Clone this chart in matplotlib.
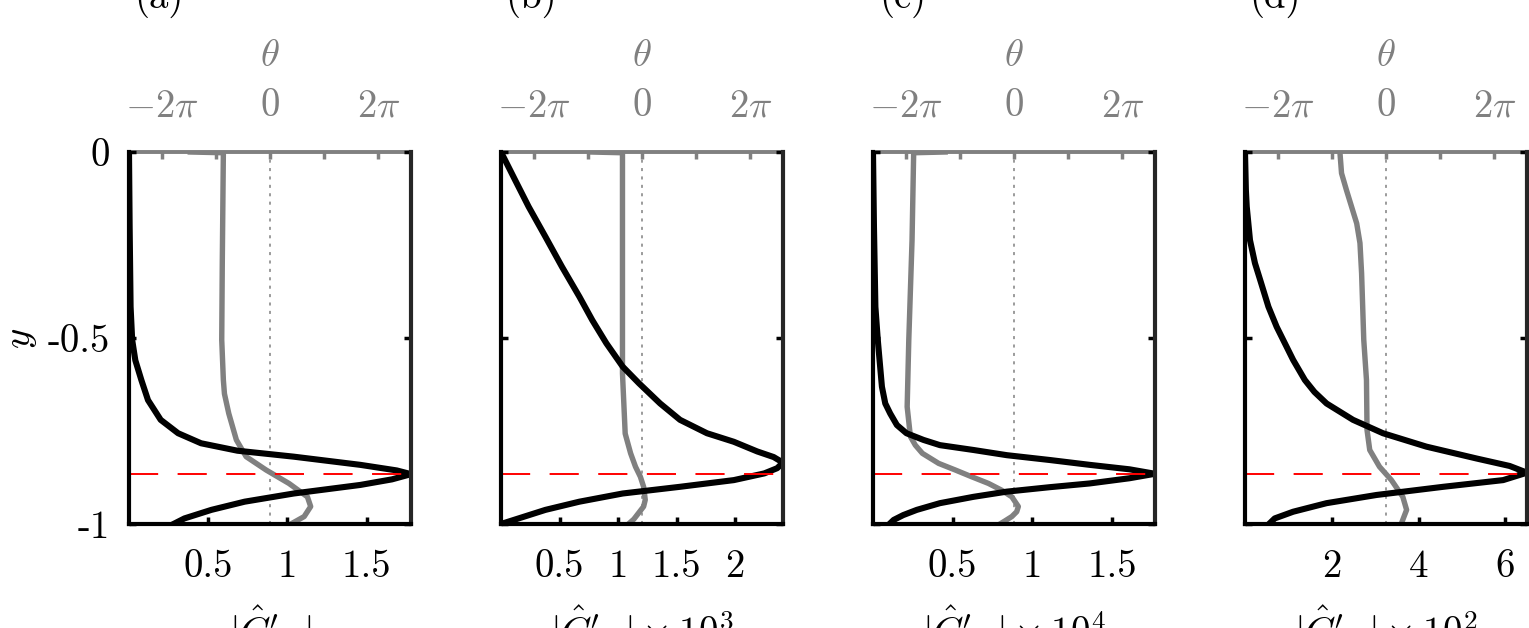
import numpy as np
import matplotlib
matplotlib.use('Agg')
import matplotlib.pyplot as plt

plt.rcParams['font.family'] = 'serif'
plt.rcParams['font.serif'] = ['cmr10', 'DejaVu Serif']
plt.rcParams['mathtext.fontset'] = 'cm'
plt.rcParams['axes.unicode_minus'] = False

# amplitude |C'| (black) and phase theta/pi (grey) against y
y_amp_a = [0, -0.2, -0.416, -0.505, -0.56, -0.613, -0.667, -0.72, -0.756, -0.783, -0.803,
           -0.819, -0.841, -0.856, -0.866, -0.88, -0.895, -0.918, -0.94, -0.962, -0.985, -0.998]
amp_a = [0, 0.004, 0.01, 0.02, 0.04, 0.078, 0.12, 0.20, 0.31, 0.455, 0.685,
         1.04, 1.46, 1.69, 1.78, 1.66, 1.46, 1.04, 0.73, 0.52, 0.35, 0.29]
y_ph_a = [0, -0.002, -0.3, -0.505, -0.613, -0.65, -0.703, -0.774, -0.819, -0.855,
          -0.891, -0.927, -0.953, -0.98, -1.0]
ph_a = [-1.47, -0.86, -0.88, -0.89, -0.86, -0.84, -0.76, -0.62, -0.44, -0.07,
        0.35, 0.69, 0.75, 0.63, 0.385]

y_amp_b = [0, -0.075, -0.147, -0.228, -0.308, -0.389, -0.452, -0.514, -0.577, -0.622,
           -0.676, -0.72, -0.756, -0.779, -0.805, -0.82, -0.835, -0.85, -0.864, -0.882,
           -0.9, -0.918, -0.94, -0.962, -0.985, -1.0]
amp_b = [0, 0.12, 0.236, 0.38, 0.52, 0.67, 0.78, 0.90, 1.04, 1.18,
         1.36, 1.53, 1.76, 1.99, 2.19, 2.33, 2.41, 2.36, 2.25, 1.99,
         1.53, 1.04, 0.67, 0.38, 0.15, 0.0]
y_ph_b = [0, -0.002, -0.595, -0.757, -0.81, -0.846, -0.873, -0.9, -0.935, -0.953, -0.97, -0.987, -1.0]
ph_b = [-0.95, -0.36, -0.36, -0.31, -0.21, -0.12, -0.03, 0.03, 0.06, 0.03, -0.06, -0.15, -0.25]

y_amp_c = [0, -0.2, -0.416, -0.505, -0.631, -0.676, -0.703, -0.734, -0.756, -0.774, -0.788,
           -0.801, -0.815, -0.828, -0.841, -0.853, -0.865, -0.877, -0.891, -0.901, -0.913,
           -0.927, -0.944, -0.962, -0.976, -0.989, -0.998]
amp_c = [0, 0.006, 0.015, 0.03, 0.056, 0.077, 0.108, 0.15, 0.21, 0.317, 0.42,
         0.63, 0.84, 1.11, 1.36, 1.61, 1.77, 1.61, 1.36, 1.11, 0.84,
         0.63, 0.42, 0.275, 0.19, 0.13, 0.108]
y_ph_c = [0, -0.002, -0.237, -0.505, -0.685, -0.765, -0.788, -0.81, -0.837, -0.855, -0.873,
          -0.891, -0.909, -0.927, -0.953, -0.967, -0.98, -0.992, -1.0]
ph_c = [-1.27, -1.85, -1.88, -1.94, -1.97, -1.91, -1.82, -1.69, -1.39, -1.08, -0.78,
        -0.47, -0.23, -0.04, 0.08, 0.05, -0.04, -0.17, -0.26]

y_amp_d = [0, -0.102, -0.147, -0.237, -0.299, -0.344, -0.416, -0.47, -0.559, -0.613, -0.645,
           -0.676, -0.72, -0.756, -0.792, -0.824, -0.844, -0.862, -0.882, -0.9, -0.922,
           -0.944, -0.967, -0.985, -0.998]
amp_d = [0, 0.02, 0.04, 0.115, 0.23, 0.35, 0.54, 0.73, 1.11, 1.38, 1.6,
         1.88, 2.49, 3.18, 4.18, 5.34, 6.1, 6.5, 5.95, 4.57, 3.03,
         1.88, 1.11, 0.685, 0.57]
y_ph_d = [0, -0.057, -0.102, -0.147, -0.192, -0.245, -0.326, -0.505, -0.613, -0.747,
          -0.801, -0.846, -0.882, -0.927, -0.962, -1.0]
ph_d = [-0.85, -0.82, -0.73, -0.635, -0.54, -0.48, -0.45, -0.41, -0.36, -0.35,
        -0.30, -0.12, 0.10, 0.31, 0.38, 0.28]

panels = ['(a)', '(b)', '(c)', '(d)']
xmax = [1.78, 2.41, 1.77, 6.5]
xticks = [[0.5, 1, 1.5], [0.5, 1, 1.5, 2], [0.5, 1, 1.5], [2, 4, 6]]
xticklabels = [['0.5', '1', '1.5'], ['0.5', '1', '1.5', '2'], ['0.5', '1', '1.5'], ['2', '4', '6']]
xlabels = [r"$|\hat{C}'_{\mathrm{w}}|$", r"$|\hat{C}'_{\mathrm{w}}|\times 10^3$",
           r"$|\hat{C}'_{\mathrm{w}}|\times 10^4$", r"$|\hat{C}'_{\mathrm{w}}|\times 10^2$"]
y_crit = -0.865

amps = [(y_amp_a, amp_a), (y_amp_b, amp_b), (y_amp_c, amp_c), (y_amp_d, amp_d)]
phases = [(y_ph_a, ph_a), (y_ph_b, ph_b), (y_ph_c, ph_c), (y_ph_d, ph_d)]

W, H = 1529, 628
fig = plt.figure(figsize=(W / 100, H / 100), dpi=100)
grey = '#808080'
fs = 28

for i in range(4):
    left = (129 + 372 * i) / W
    ax = fig.add_axes([left, (H - 524) / H, 282 / W, 372 / H])
    ax2 = ax.twiny()
    ax.set_zorder(ax2.get_zorder() + 1)
    ax.patch.set_visible(False)

    # phase on the top axis
    yp, pp = phases[i]
    ax2.plot(np.array(pp) * np.pi, yp, color=grey, lw=3.9, solid_joinstyle='round')
    ax2.axvline(0, color=grey, lw=1.1, ls=(0, (2, 3.5)))
    ax2.set_xlim(-2.6 * np.pi, 2.6 * np.pi)
    ax2.set_xticks(np.arange(-2, 3) * np.pi)
    ax2.set_xticklabels([r'$-2\pi$', '', r'$0$', '', r'$2\pi$'], color=grey, fontsize=fs)
    ax2.tick_params(axis='x', direction='in', length=5, width=2.5, color=grey, pad=20)
    ax2.set_xlabel(r'$\theta$', color=grey, fontsize=fs, labelpad=16)
    for s in ['left', 'right', 'bottom']:
        ax2.spines[s].set_visible(False)
    ax2.spines['top'].set_color(grey)
    ax2.spines['top'].set_linewidth(2.8)

    # amplitude on the bottom axis
    ya, aa = amps[i]
    ax.plot(aa, ya, color='black', lw=4.4, solid_joinstyle='round')
    ax.axhline(y_crit, color='red', lw=1.4, dashes=(15, 10))
    ax.set_xlim(0, xmax[i])
    ax.set_ylim(-1, 0)
    ax.set_xticks(xticks[i])
    ax.set_xticklabels(xticklabels[i], fontsize=fs)
    ax.set_yticks([-1, -0.5, 0])
    if i == 0:
        ax.set_yticklabels(['-1', '-0.5', '0'], fontsize=fs)
        ax.set_ylabel(r'$y$', fontsize=fs, labelpad=6)
    else:
        ax.set_yticklabels([])
    ax.tick_params(axis='both', direction='in', length=5, width=2.5, right=True)
    ax.tick_params(axis='x', pad=18)
    ax.tick_params(axis='y', pad=14)
    ax.set_xlabel(xlabels[i], fontsize=fs, labelpad=14)
    ax.spines['top'].set_visible(False)
    for s in ['left', 'bottom']:
        ax.spines[s].set_linewidth(3.0)
    ax.spines['right'].set_linewidth(3.0)
    ax.spines['right'].set_color('#262626')

    fig.text(left + 30 / W, (H - 8) / H, panels[i], fontsize=fs, ha='center', va='baseline')

fig.savefig('out.png', dpi=100)
